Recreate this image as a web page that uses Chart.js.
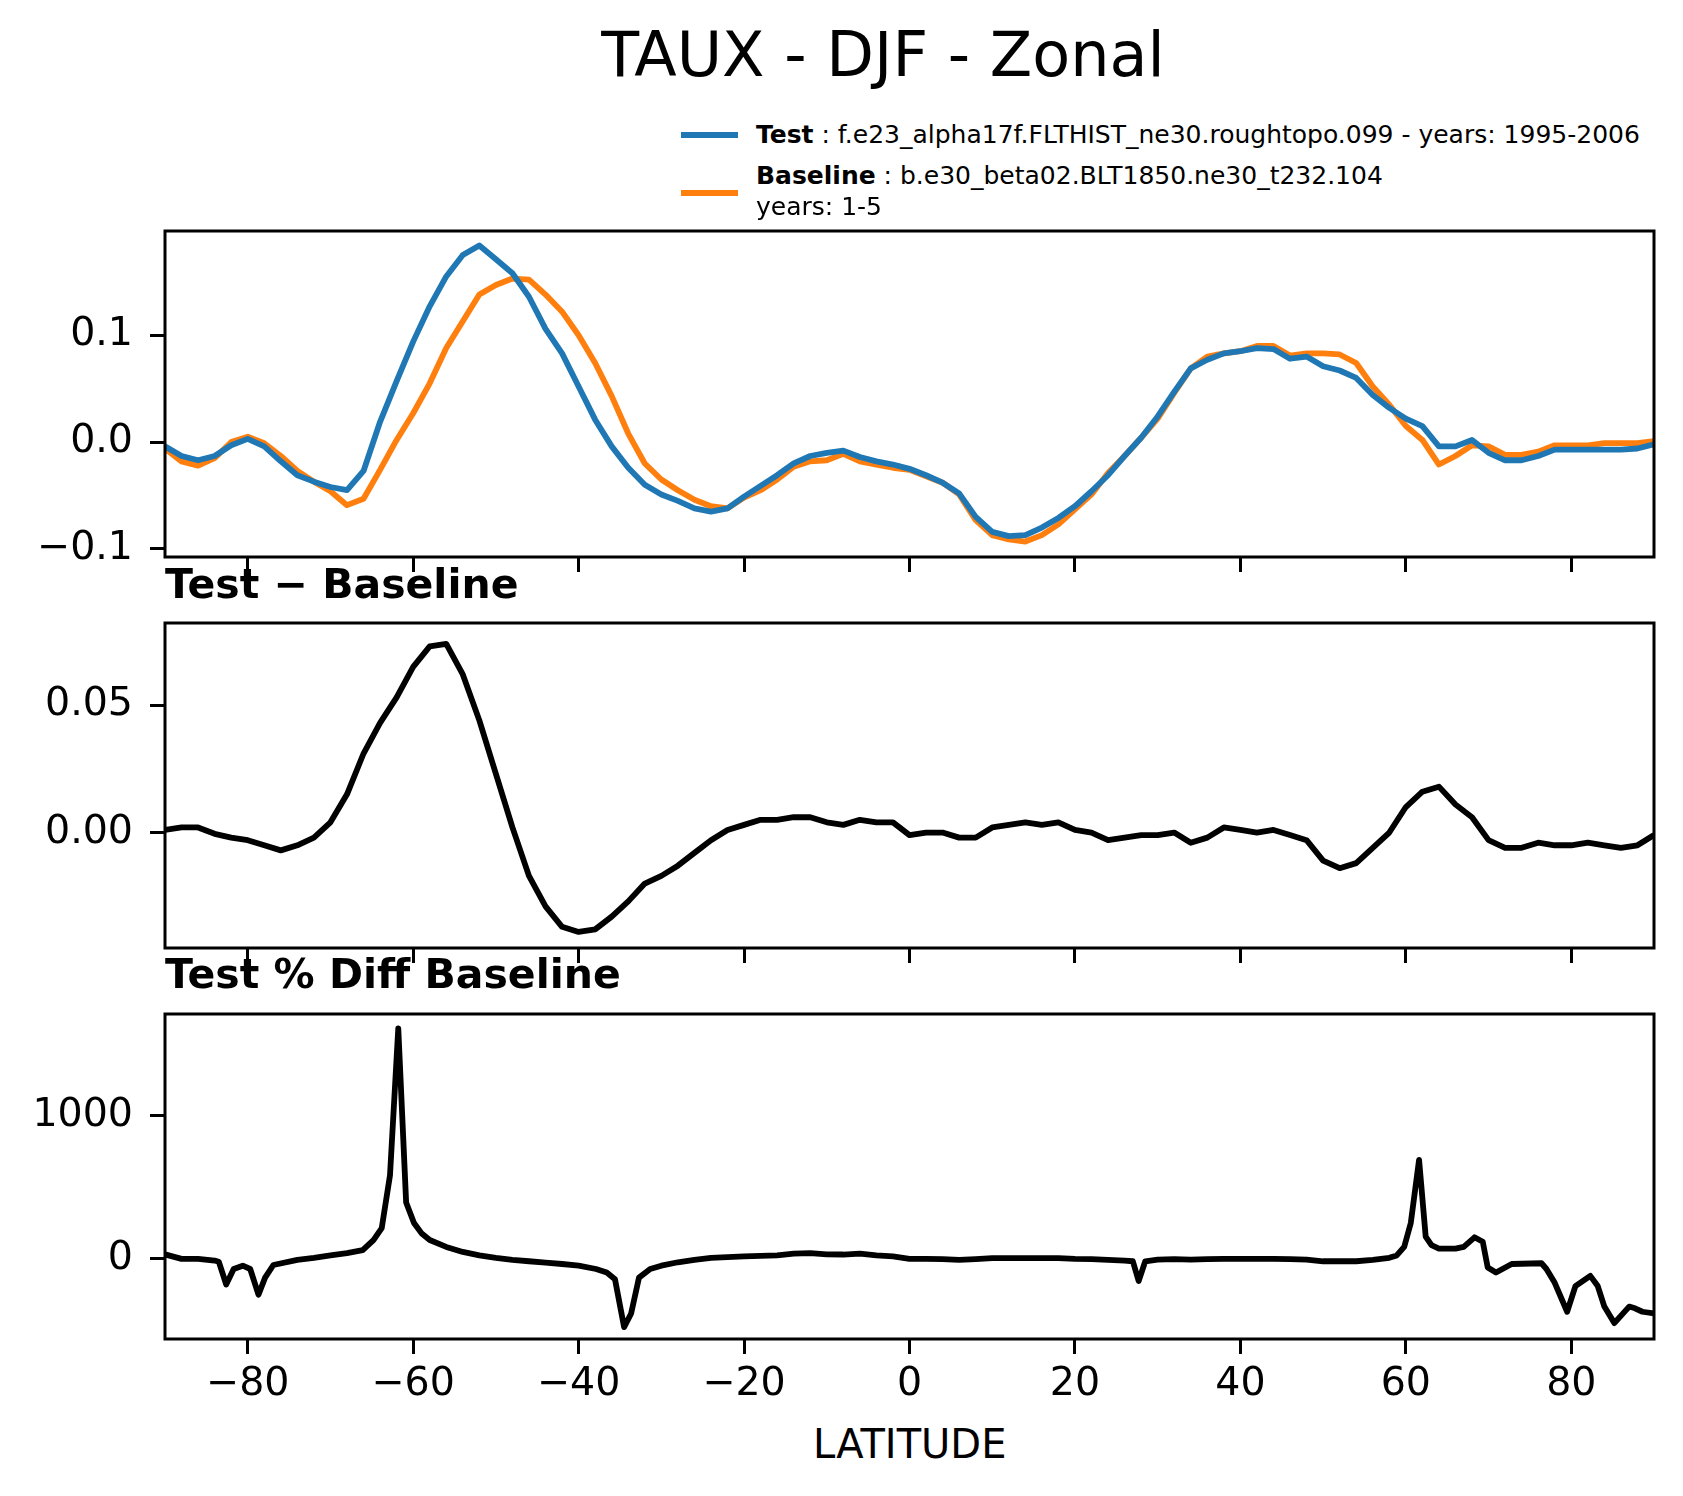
<!DOCTYPE html>
<html>
<head>
<meta charset="utf-8">
<script src="https://cdn.jsdelivr.net/npm/chart.js@4.4.0/dist/chart.umd.min.js"></script>
<style>
  body { margin: 0; width: 1683px; height: 1496px; overflow: hidden; background: #fff; position: relative; font-family: "DejaVu Sans"; color: #000; }
  .txt { position: absolute; white-space: nowrap; line-height: 1; z-index: 2; }
  .handle { position: absolute; width: 57px; height: 6px; }
  canvas { position: absolute; left: 0; }
</style>
</head>
<body>
<div class="txt" style="left:883px;top:24px;font-size:62px;transform:translateX(-50%)">TAUX - DJF - Zonal</div>

<div class="handle" style="left:681px;top:132px;background:#1f77b4"></div>
<div class="txt" style="left:756px;top:122.2px;font-size:25px"><b>Test</b> : f.e23_alpha17f.FLTHIST_ne30.roughtopo.099 - years: 1995-2006</div>
<div class="handle" style="left:681px;top:190px;background:#ff7f0e"></div>
<div class="txt" style="left:756px;top:162.9px;font-size:25px"><b>Baseline</b> : b.e30_beta02.BLT1850.ne30_t232.104</div>
<div class="txt" style="left:756px;top:194.4px;font-size:25px">years: 1-5</div>

<div class="txt" style="left:165px;top:563.6px;font-size:41px;font-weight:bold">Test − Baseline</div>
<div class="txt" style="left:165px;top:954.3px;font-size:41px;font-weight:bold">Test % Diff Baseline</div>
<div class="txt" style="left:909.7px;top:1423.7px;font-size:40px;transform:translateX(-50%)">LATITUDE</div>

<canvas id="c1" width="1683" height="358" style="top:219px"></canvas>
<canvas id="c2" width="1683" height="357" style="top:611px"></canvas>
<canvas id="c3" width="1683" height="417" style="top:1002px"></canvas>

<script>
// latitudes for the two upper panels
const lat = [-90,-88,-86,-84,-82,-80,-78,-76,-74,-72,-70,-68,-66,-64,-62,-60,-58,-56,-54,-52,
  -50,-48,-46,-44,-42,-40,-38,-36,-34,-32,-30,-28,-26,-24,-22,-20,-18,-16,-14,-12,
  -10,-8,-6,-4,-2,0,2,4,6,8,10,12,14,16,18,20,22,24,26,28,
  30,32,34,36,38,40,42,44,46,48,50,52,54,56,58,60,62,64,66,68,
  70,72,74,76,78,80,82,84,86,88,90];

const testVals = [-0.004,-0.013,-0.017,-0.013,-0.003,0.003,-0.004,-0.018,-0.031,-0.037,
  -0.042,-0.045,-0.027,0.019,0.057,0.094,0.127,0.155,0.175,0.184,
  0.171,0.158,0.136,0.106,0.083,0.052,0.021,-0.004,-0.024,-0.040,
  -0.049,-0.055,-0.062,-0.065,-0.062,-0.051,-0.041,-0.031,-0.020,-0.013,
  -0.010,-0.008,-0.014,-0.018,-0.021,-0.025,-0.031,-0.038,-0.048,-0.070,
  -0.084,-0.088,-0.087,-0.080,-0.071,-0.060,-0.046,-0.031,-0.013,0.004,
  0.024,0.047,0.069,0.077,0.083,0.085,0.088,0.087,0.078,0.080,
  0.071,0.067,0.060,0.044,0.032,0.022,0.015,-0.004,-0.004,0.002,
  -0.010,-0.017,-0.017,-0.013,-0.007,-0.007,-0.007,-0.007,-0.007,-0.006,-0.002];

const baseVals = [-0.006,-0.018,-0.022,-0.015,0.000,0.005,-0.001,-0.013,-0.027,-0.037,
  -0.046,-0.059,-0.053,-0.026,0.002,0.027,0.055,0.088,0.113,0.138,
  0.147,0.153,0.152,0.138,0.122,0.100,0.074,0.043,0.008,-0.020,
  -0.035,-0.045,-0.054,-0.060,-0.062,-0.052,-0.045,-0.035,-0.023,-0.018,
  -0.017,-0.011,-0.018,-0.021,-0.024,-0.026,-0.032,-0.038,-0.049,-0.073,
  -0.087,-0.091,-0.093,-0.087,-0.077,-0.063,-0.049,-0.029,-0.013,0.004,
  0.022,0.046,0.069,0.080,0.083,0.085,0.090,0.090,0.081,0.083,
  0.083,0.082,0.074,0.052,0.035,0.015,0.002,-0.021,-0.013,-0.003,
  -0.004,-0.012,-0.012,-0.009,-0.003,-0.003,-0.003,-0.001,-0.001,-0.001,0.001];

const diffVals = [0.001,0.002,0.002,-0.0005,-0.002,-0.003,-0.005,-0.007,-0.005,-0.002,
  0.004,0.015,0.031,0.043,0.053,0.065,0.073,0.074,0.062,0.044,
  0.023,0.002,-0.017,-0.029,-0.037,-0.039,-0.038,-0.033,-0.027,-0.020,
  -0.017,-0.013,-0.008,-0.003,0.001,0.003,0.005,0.005,0.006,0.006,
  0.004,0.003,0.005,0.004,0.004,-0.001,0.000,0.000,-0.002,-0.002,
  0.002,0.003,0.004,0.003,0.004,0.001,0.000,-0.003,-0.002,-0.001,
  -0.001,0.000,-0.004,-0.002,0.002,0.001,0.000,0.001,-0.001,-0.003,
  -0.011,-0.014,-0.012,-0.006,0.000,0.010,0.016,0.018,0.011,0.006,
  -0.003,-0.006,-0.006,-0.004,-0.005,-0.005,-0.004,-0.005,-0.006,-0.005,-0.001];

// percent difference is sampled more finely around its spikes
const latPct = [-90,-88,-86,-84,-83.5,-82.6,-81.7,-80.6,-79.7,-78.7,-77.9,-76.9,-74,-72,-70,-68,
  -66.1,-64.8,-63.8,-62.8,-61.8,-60.85,-59.9,-59,-58,-56,-54,-52,-50,-48,-46,-44,-42,-40,
  -37.9,-36.6,-35.6,-34.5,-33.65,-32.7,-31.35,-30,-28,-26,-24,-22,-20,-18,-16,-14,-12,-10,
  -8,-6,-4,-2,0,2,4,6,8,10,12,14,16,18,20,22,24,26,27,27.7,28.5,30,32,34,36,38,40,42,44,
  46,48,50,52,54,56,58,58.9,59.8,60.6,61.6,62.4,63.1,64,66,67,68.3,69.3,69.9,70.9,72.8,76.4,
  77,78,79.5,80.5,82.3,83.2,84,85.2,87,87.7,88.6,90];
const pctVals = [31,0,0,-12,-20,-179,-71,-48,-71,-250,-131,-43,-7,7,24,40,
  60,131,214,583,1607,393,250,179,131,83,48,24,7,-7,-17,-26,-36,-48,
  -71,-95,-143,-476,-381,-131,-71,-48,-24,-7,7,12,17,21,24,36,40,31,
  30,36,24,17,0,0,-2,-7,-2,5,5,5,5,5,0,-2,-7,-12,-17,-155,-17,-5,-2,-5,-2,0,0,0,0,
  -2,-5,-17,-17,-17,-7,7,24,83,250,690,155,95,71,71,83,150,119,-60,-95,-36,-31,
  -71,-167,-369,-190,-119,-190,-333,-448,-333,-345,-369,-381];

const xTicks = [-80,-60,-40,-20,0,20,40,60,80];
const y1Ticks = [-0.1, 0, 0.1];
const y1Labels = ['−0.1', '0.0', '0.1'];
const y2Ticks = [0, 0.05];
const y2Labels = ['0.00', '0.05'];
const y3Ticks = [0, 1000];
const y3Labels = ['0', '1000'];

const FONT = { family: 'DejaVu Sans', size: 39.5 };

// draw the full axes frame like matplotlib spines
const framePlugin = {
  id: 'frame',
  afterDraw(chart) {
    const a = chart.chartArea, ctx = chart.ctx;
    ctx.save();
    ctx.lineWidth = 3;
    ctx.strokeStyle = '#000';
    ctx.strokeRect(a.left, a.top, a.right - a.left, a.bottom - a.top);
    ctx.restore();
  }
};

function toPoints(xs, ys) {
  return xs.map((x, i) => ({ x: x, y: ys[i] }));
}

function makePanel(id, datasets, yMin, yMax, yTicks, yLabels, showX, axisH) {
  return new Chart(document.getElementById(id), {
    type: 'line',
    data: { datasets: datasets },
    plugins: [framePlugin],
    options: {
      responsive: false,
      animation: false,
      layout: { padding: { top: 12, right: 29, left: 0, bottom: 0 }, autoPadding: false },
      plugins: { legend: { display: false }, tooltip: { enabled: false }, title: { display: false } },
      elements: { point: { radius: 0 }, line: { tension: 0, borderJoinStyle: 'round' } },
      scales: {
        x: {
          type: 'linear', min: -90, max: 90,
          afterBuildTicks: s => { s.ticks = xTicks.map(v => ({ value: v })); },
          afterFit: s => { s.height = axisH; s.paddingLeft = 0; s.paddingRight = 0; },
          border: { display: false },
          grid: { display: true, drawOnChartArea: false, drawTicks: true, tickLength: 15, tickWidth: 3, tickColor: '#000' },
          ticks: {
            display: showX, padding: 7, color: '#000', font: FONT, maxRotation: 0, autoSkip: false,
            callback: v => String(v).replace('-', '−')
          }
        },
        y: {
          type: 'linear', min: yMin, max: yMax,
          afterBuildTicks: s => { s.ticks = yTicks.map(v => ({ value: v })); },
          afterFit: s => { s.width = 165; s.paddingTop = 0; s.paddingBottom = 0; },
          border: { display: false },
          grid: { display: true, drawOnChartArea: false, drawTicks: true, tickLength: 15, tickWidth: 3, tickColor: '#000' },
          ticks: { padding: 17, color: '#000', font: FONT, callback: (v, i) => yLabels[i] }
        }
      }
    }
  });
}

const LW = 5.8;

makePanel('c1', [
  { data: toPoints(lat, testVals), borderColor: '#1f77b4', borderWidth: LW, fill: false },
  { data: toPoints(lat, baseVals), borderColor: '#ff7f0e', borderWidth: LW, fill: false }
], -0.1075, 0.1975, y1Ticks, y1Labels, false, 20);

makePanel('c2', [
  { data: toPoints(lat, diffVals), borderColor: '#000', borderWidth: LW, fill: false }
], -0.0453, 0.0822, y2Ticks, y2Labels, false, 20);

makePanel('c3', [
  { data: toPoints(latPct, pctVals), borderColor: '#000', borderWidth: LW, fill: false }
], -559, 1707, y3Ticks, y3Labels, true, 80);
</script>
</body>
</html>
